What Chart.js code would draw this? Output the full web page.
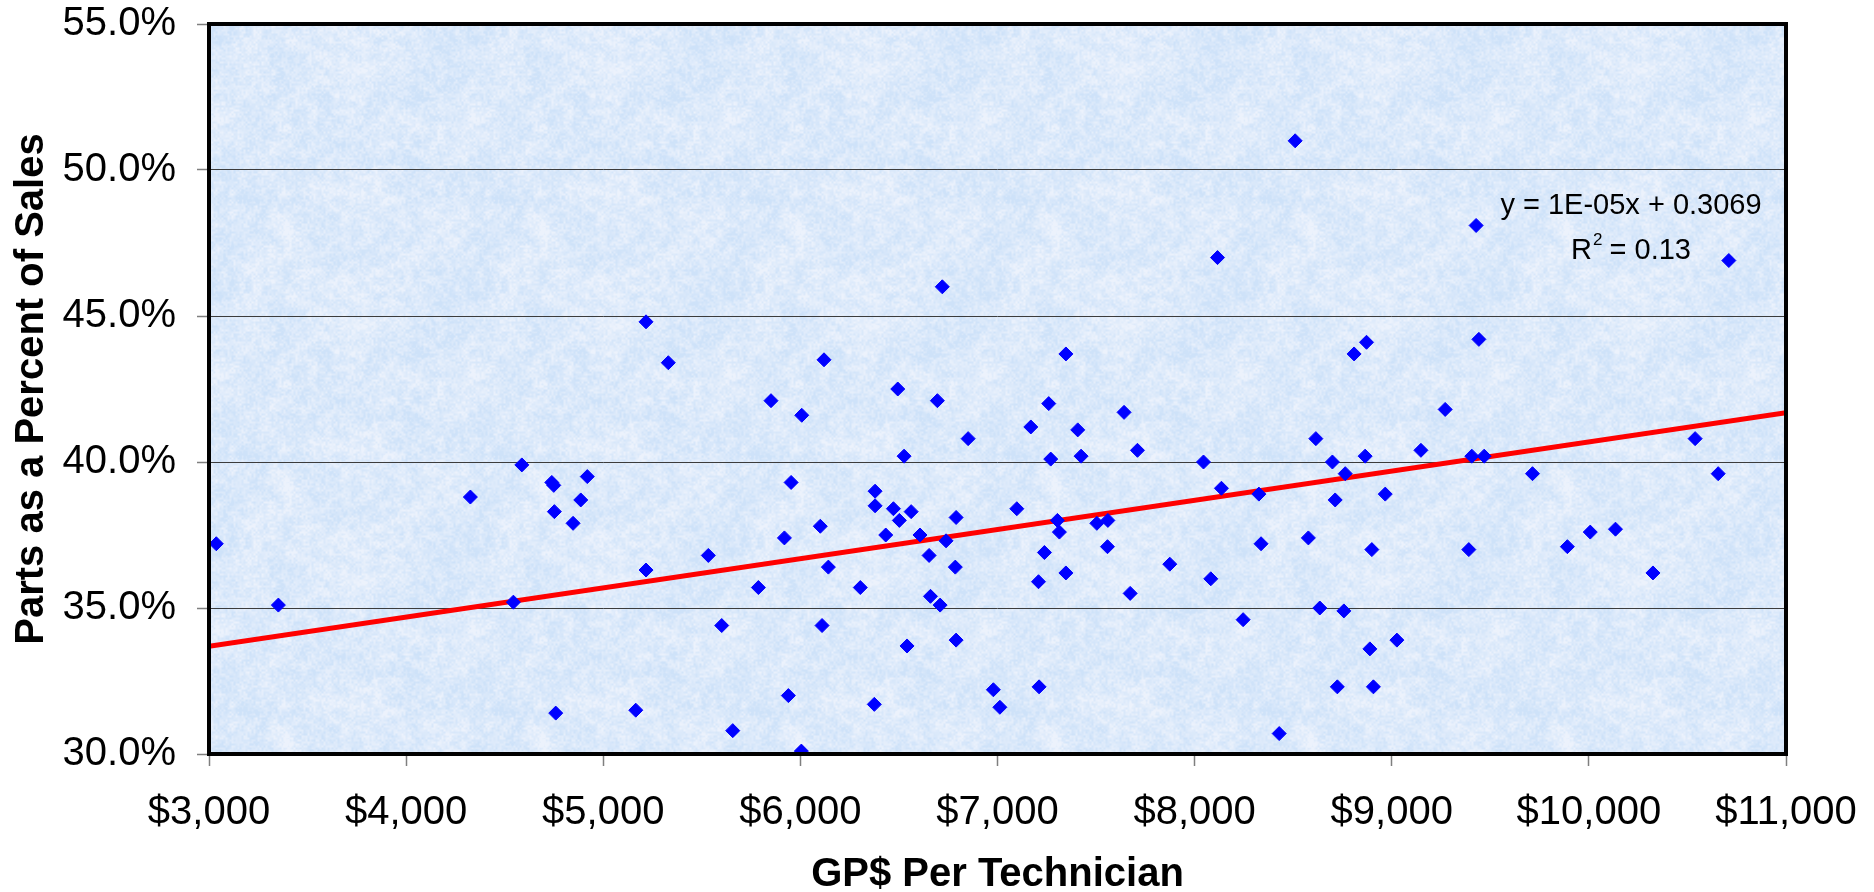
<!DOCTYPE html>
<html>
<head>
<meta charset="utf-8">
<script src="https://cdn.jsdelivr.net/npm/chart.js@4.4.1/dist/chart.umd.min.js"></script>
<style>
  html, body { margin: 0; padding: 0; background: #ffffff; }
  #c { display: block; }
</style>
</head>
<body>
<canvas id="c" width="1874" height="892"></canvas>
<script>
// GP$ per technician for each store
const gpPerTech = [
  3037, 3352, 4587, 4326, 4739, 4749, 4919, 4886, 4752, 4847, 4544, 4759,
  6720, 5217, 5330, 6120, 5851, 6007, 6494, 6695, 6851,
  6526, 5953, 6379, 6379, 6472, 6562, 6502, 6790, 6101, 5919, 6433, 6607, 6739,
  5533, 5217, 6142, 6653, 6786, 5787, 6304, 6660, 6709, 5601, 6110, 6541, 6790,
  5939, 6375, 6979, 7012, 5165, 5657, 6005,
  8510, 8116, 7347, 8872, 8809, 7260, 7642, 7169, 7407, 8615,
  9428, 10710, 9442, 9271, 10539,
  7270, 7424, 7710, 8045, 8699, 8865, 8764, 8136, 8326, 8713, 8967, 7098,
  7304, 7314, 7504, 7560, 7558, 7238, 7347, 7208, 7673, 7874, 8082, 8337,
  8577, 8899, 8246, 8635, 8757, 8889, 9026, 7211, 8724, 8907, 8429,
  9148, 9406, 9469, 9714, 10656, 9391, 9891, 10007, 10135, 10325
];

// Parts as a percent of sales for the same stores (percent)
const partsPct = [
  37.2, 35.1, 39.9, 38.8, 39.3, 39.2, 39.5, 38.7, 38.3, 37.9, 35.2, 31.4,
  46.0, 44.8, 43.4, 43.5, 42.1, 41.6, 42.5, 42.1, 40.8,
  40.2, 39.3, 39.0, 38.5, 38.4, 38.3, 38.0, 38.1, 37.8, 37.4, 37.5, 37.5, 37.3,
  36.8, 36.3, 36.4, 36.8, 36.4, 35.7, 35.7, 35.4, 35.1, 34.4, 34.4, 33.7, 33.9,
  32.0, 31.7, 32.2, 31.6, 31.5, 30.8, 30.1,
  51.0, 47.0, 43.7, 44.1, 43.7, 42.0, 41.7, 41.2, 41.1, 40.8,
  48.1, 46.9, 44.2, 41.8, 40.8,
  40.1, 40.2, 40.4, 40.0, 40.0, 40.2, 39.6, 39.1, 38.9, 38.7, 38.9, 38.4,
  38.0, 37.6, 37.9, 38.0, 37.1, 36.9, 36.2, 35.9, 35.5, 36.5, 36.0, 37.2,
  37.4, 37.0, 34.6, 35.0, 34.9, 33.6, 33.9, 32.3, 32.3, 32.3, 30.7,
  40.4, 40.2, 40.2, 39.6, 39.6, 37.0, 37.1, 37.6, 37.7, 36.2
];

// Axis tick values
const xTickValues = [3000, 4000, 5000, 6000, 7000, 8000, 9000, 10000, 11000];
const yTickValues = [30, 35, 40, 45, 50, 55];

// Linear trend (fraction of sales vs dollars) and its fit quality
const trendSlope = 0.00001;
const trendIntercept = 0.3069;
const trendR2 = 0.13;
const trendRange = [3000, 11000];

const FONT = "'Liberation Sans', Arial, Helvetica, sans-serif";

const points = gpPerTech.map((x, i) => ({ x: x, y: partsPct[i] }));
const trendPoints = trendRange.map(x => ({ x: x, y: (trendIntercept + trendSlope * x) * 100 }));

function sciLabel(v) {
  const parts = v.toExponential(0).toUpperCase().split('E');
  const exp = parseInt(parts[1], 10);
  return parts[0] + 'E' + (exp < 0 ? '-' : '+') + String(Math.abs(exp)).padStart(2, '0');
}

// Fine mottled paper fill for the plot area (deterministic value noise)
function paperTile(size) {
  const c = document.createElement('canvas');
  c.width = size; c.height = size;
  const g = c.getContext('2d');
  const img = g.createImageData(size, size);
  function hash(i, j, s) {
    let n = Math.imul(i, 374761393) + Math.imul(j, 668265263) + Math.imul(s, 144665);
    n = Math.imul(n ^ (n >>> 13), 1274126177);
    n = n ^ (n >>> 16);
    return (n >>> 0) / 4294967295;
  }
  function noise(x, y, cell, seed) {
    const cells = size / cell;
    const gx = x / cell, gy = y / cell;
    const i0 = Math.floor(gx), j0 = Math.floor(gy);
    const fx = gx - i0, fy = gy - j0;
    const sx = fx * fx * (3 - 2 * fx), sy = fy * fy * (3 - 2 * fy);
    const a = hash(i0 % cells, j0 % cells, seed);
    const b = hash((i0 + 1) % cells, j0 % cells, seed);
    const c2 = hash(i0 % cells, (j0 + 1) % cells, seed);
    const d = hash((i0 + 1) % cells, (j0 + 1) % cells, seed);
    const top = a + (b - a) * sx, bot = c2 + (d - c2) * sx;
    return top + (bot - top) * sy;
  }
  const lo = [206, 226, 249], hi = [236, 242, 252];
  for (let y = 0; y < size; y++) {
    for (let x = 0; x < size; x++) {
      let n = 0.25 * noise(x, y, 32, 1) + 0.35 * noise(x, y, 8, 2) + 0.4 * noise(x, y, 2, 3);
      n = Math.min(1, Math.max(0, (n - 0.5) * 1.8 + 0.5));
      const k = (y * size + x) * 4;
      img.data[k] = lo[0] + (hi[0] - lo[0]) * n;
      img.data[k + 1] = lo[1] + (hi[1] - lo[1]) * n;
      img.data[k + 2] = lo[2] + (hi[2] - lo[2]) * n;
      img.data[k + 3] = 255;
    }
  }
  g.putImageData(img, 0, 0);
  return c;
}
const paper = paperTile(256);

// Plot-area fill, heavy frame and the regression caption
const plotFrame = {
  id: 'plotFrame',
  beforeDraw(chart) {
    const { ctx, chartArea: a } = chart;
    ctx.save();
    ctx.fillStyle = ctx.createPattern(paper, 'repeat');
    ctx.fillRect(a.left, a.top, a.right - a.left, a.bottom - a.top);
    ctx.restore();
  },
  afterDatasetsDraw(chart) {
    const { ctx, chartArea: a } = chart;
    ctx.save();
    ctx.strokeStyle = '#000000';
    ctx.lineWidth = 4;
    ctx.strokeRect(a.left, a.top, a.right - a.left, a.bottom - a.top);

    const cx = a.right - 155;
    ctx.fillStyle = '#000000';
    ctx.textBaseline = 'alphabetic';
    ctx.font = '29px ' + FONT;
    ctx.textAlign = 'center';
    const line1 = 'y = ' + sciLabel(trendSlope) + 'x + ' + trendIntercept.toFixed(4);
    ctx.fillText(line1, cx, a.top + 190);

    const base2 = a.top + 235;
    const r = 'R', sup = '2', rest = ' = ' + trendR2.toFixed(2);
    ctx.font = '29px ' + FONT;
    const wR = ctx.measureText(r).width;
    const wRest = ctx.measureText(rest).width;
    ctx.font = '17px ' + FONT;
    const wSup = ctx.measureText(sup).width;
    const x0 = cx - (wR + wSup + wRest) / 2;
    ctx.textAlign = 'left';
    ctx.font = '29px ' + FONT;
    ctx.fillText(r, x0, base2);
    ctx.font = '17px ' + FONT;
    ctx.fillText(sup, x0 + wR + 1, base2 - 14);
    ctx.font = '29px ' + FONT;
    ctx.fillText(rest, x0 + wR + wSup, base2);
    ctx.restore();
  }
};

new Chart(document.getElementById('c'), {
  type: 'scatter',
  data: {
    datasets: [
      {
        label: 'Stores',
        data: points,
        pointStyle: 'rectRot',
        pointRadius: 7,
        pointHoverRadius: 7,
        backgroundColor: '#0000ff',
        borderColor: '#0000ff',
        borderWidth: 1
      },
      {
        label: 'Linear trend',
        type: 'line',
        data: trendPoints,
        showLine: true,
        pointRadius: 0,
        borderColor: '#ff0000',
        borderWidth: 5,
        fill: false
      }
    ]
  },
  options: {
    responsive: false,
    animation: false,
    events: [],
    layout: { padding: { left: 0, right: 88, top: 24, bottom: 0 } },
    plugins: {
      legend: { display: false },
      tooltip: { enabled: false }
    },
    scales: {
      x: {
        type: 'linear',
        min: 3000,
        max: 11000,
        afterBuildTicks: s => { s.ticks = xTickValues.map(v => ({ value: v })); },
        afterFit: s => { s.height = 138; s.paddingLeft = 0; s.paddingRight = 0; },
        grid: { drawOnChartArea: false, drawTicks: true, tickLength: 12, tickColor: '#7f7f7f', tickWidth: 1.5 },
        border: { display: false },
        ticks: {
          padding: 27,
          color: '#000000',
          font: { family: FONT, size: 40, lineHeight: 1 },
          maxRotation: 0,
          callback: v => '$' + Number(v).toLocaleString('en-US')
        },
        title: {
          display: true,
          text: 'GP$ Per Technician',
          color: '#000000',
          font: { family: FONT, size: 40, weight: 'bold', lineHeight: 1 },
          padding: { top: 0, bottom: -3 }
        }
      },
      y: {
        type: 'linear',
        min: 30,
        max: 55,
        afterBuildTicks: s => { s.ticks = yTickValues.map(v => ({ value: v })); },
        afterFit: s => { s.width = 209; s.paddingTop = 0; s.paddingBottom = 0; },
        grid: { color: '#3c3c3c', lineWidth: 1, drawTicks: true, tickLength: 12, tickColor: '#7f7f7f', tickWidth: 1.5 },
        border: { display: false },
        ticks: {
          padding: 21,
          color: '#000000',
          font: { family: FONT, size: 40, lineHeight: 1 },
          callback: v => Number(v).toFixed(1) + '%'
        },
        title: {
          display: true,
          text: 'Parts as a Percent of Sales',
          color: '#000000',
          font: { family: FONT, size: 40, weight: 'bold', lineHeight: 1 },
          padding: { top: 12, bottom: 0 }
        }
      }
    }
  },
  plugins: [plotFrame]
});
</script>
</body>
</html>
